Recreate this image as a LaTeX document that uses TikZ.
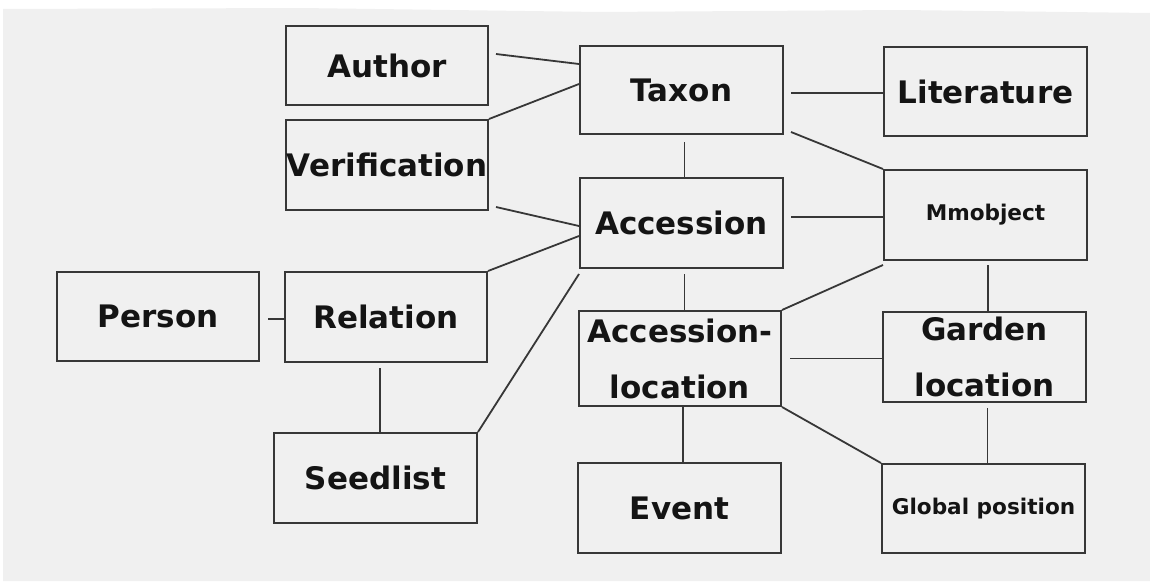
\documentclass[tikz,border=0pt]{standalone}
\usepackage{fontspec}
\setmainfont{DejaVu Sans}
\begin{document}
\begin{tikzpicture}[x=1pt,y=-1pt,
  box/.style={draw=linegray,line width=2pt,fill=none,inner sep=0pt,
    minimum width=202pt,minimum height=90pt,align=center,text=black!92,
    font=\fontsize{31}{56}\selectfont\bfseries},
  smallbox/.style={box,font=\fontsize{21.6}{26}\selectfont\bfseries},
  link/.style={draw=linegray,line width=1.8pt}]
\definecolor{paper}{RGB}{240,240,240}
\definecolor{linegray}{RGB}{55,55,55}
\useasboundingbox (0,0) rectangle (1150,581);
\fill[white] (0,0) rectangle (1150,581);
\fill[paper] (3,9) -- (300,8) -- (600,12) -- (900,10) -- (1150,13) -- (1150,581) -- (3,581) -- cycle;

\node[box,minimum height=79pt] (author) at (387,65.5) {Author};
\node[box] (verif) at (387,165) {Verification};
\node[box,minimum width=203pt,minimum height=88pt] (taxon) at (681.5,90) {Taxon};
\node[box,minimum width=203pt,minimum height=89pt] (lit) at (985.5,91.5) {Literature};
\node[box,minimum width=203pt] (acc) at (681.5,223) {Accession};
\node[smallbox,minimum width=203pt] (mm) at (985.5,215) {Mmobject};
\node[box,minimum height=89pt] (person) at (158,316.5) {Person};
\node[box] (relation) at (386,317) {Relation};
\node[box,minimum height=95pt] (accloc) at (680,358.5) {Accession-\\location};
\node[box,minimum width=203pt] (garden) at (984.5,357) {Garden\\location};
\node[box,minimum width=203pt] (seedlist) at (375.5,478) {Seedlist};
\node[box,minimum width=203pt] (event) at (679.5,508) {Event};
\node[smallbox,minimum width=203pt,minimum height=89pt] (global) at (983.5,508.5) {Global position};

% free start points of connectors (small gaps next to boxes)
\coordinate (tA) at ([xshift=3pt,yshift=-7pt]taxon.south);
\coordinate (aA) at ([xshift=3pt,yshift=-5pt]acc.south);
\coordinate (lA) at ([xshift=3pt]accloc.south);
\coordinate (tL) at ([xshift=7pt,yshift=-3pt]taxon.east);
\coordinate (aM) at ([xshift=7pt,yshift=6pt]acc.east);
\coordinate (lG) at ([xshift=8pt]accloc.east);
\coordinate (gG) at ([xshift=3pt,yshift=-5pt]garden.south);
\coordinate (mG) at ([xshift=2.5pt,yshift=-4pt]mm.south);
\coordinate (pR) at ([xshift=8pt,yshift=-2.5pt]person.east);
\coordinate (rS) at ([xshift=-6pt,yshift=-5pt]relation.south);

% connectors
\draw[link] ([xshift=7pt,yshift=11.5pt]author.east) -- ([yshift=26pt]taxon.west);
\draw[link] (verif.north east) -- ([yshift=6pt]taxon.west);
\draw[link] ([xshift=7pt,yshift=4pt]verif.south east) -- ([yshift=-3pt]acc.west);
\draw[link] (relation.north east) -- ([yshift=-13pt]acc.west);
\draw[link] (seedlist.north east) -- ([yshift=-5pt]acc.south west);
\draw[link] (tA) -- (tA |- acc.north);
\draw[link] (aA) -- (aA |- accloc.north);
\draw[link] (lA) -- (lA |- event.north);
\draw[link] (tL) -- (tL -| lit.west);
\draw[link] ([xshift=7pt,yshift=3pt]taxon.south east) -- (mm.north west);
\draw[link] (aM) -- (aM -| mm.west);
\draw[link] (accloc.north east) -- ([yshift=-4pt]mm.south west);
\draw[link] (lG) -- (lG -| garden.west);
\draw[link] (accloc.south east) -- (global.north west);
\draw[link] (gG) -- (gG |- global.north);
\draw[link] (mG) -- (mG |- garden.north);
\draw[link] (pR) -- (pR -| relation.west);
\draw[link] (rS) -- (rS |- seedlist.north);
\end{tikzpicture}
\end{document}
